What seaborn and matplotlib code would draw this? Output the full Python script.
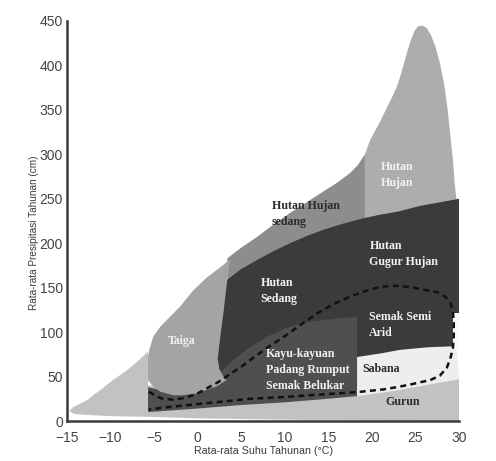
import numpy as np
import matplotlib
matplotlib.use("Agg")
import matplotlib.pyplot as plt
import seaborn as sns

# batas wilayah bioma (suhu °C, presipitasi cm)
amplop_T = [-14.7, -14.4, -13.6, -12.6, -12, -11, -10, -9, -8, -6.8, -5.7, -5.7, 0, 18.3, 30,
            30, 20, 10, 0, -5, -10, -13, -14.2, -14.7]
amplop_P = [11, 15, 19, 24, 29, 36, 44, 51, 58, 68, 78, 40, 40, 40, 50,
            0, 0.5, 1.5, 3, 4.5, 5.5, 7, 8, 11]

hujan_sedang_T = [3.4, 3.4, 5.0, 6.8, 8.7, 10.6, 12.5, 14.4, 16.0, 17.5, 18.4, 19.2, 19.2, 3.4]
hujan_sedang_P = [150, 183, 195, 207, 221, 234, 246, 258, 268, 279, 288, 300, 200, 150]

hujan_T = [19.2, 19.8, 20.4, 20.9, 21.4, 21.9, 22.4, 22.9, 23.3, 23.7, 24.1, 24.5, 24.9, 25.3, 25.8, 26.3,
           26.8, 27.3, 27.8, 28.3, 28.7, 29.0, 29.3, 29.5, 29.7, 30, 30, 19.2]
hujan_P = [300, 316, 327, 336, 346, 356, 366, 377, 389, 403, 417, 429, 439, 444, 445, 442,
           434, 421, 403, 379, 350, 322, 294, 268, 250, 240, 200, 200]

gelap_T = [1.5, 3.4, 5.0, 6.8, 8.7, 10.6, 12.5, 14.4, 16.7, 19.0, 20.9, 23.2, 25.5, 27.8, 30,
           30, 29.3, 29.3, 18.3, 1.5]
gelap_P = [150, 159, 171, 181, 191, 200, 208, 215, 222, 228, 232, 236, 242, 246, 250,
           121, 121, 60, 40, 30]

kayu_T = [-5.7, 0, 5, 10, 15, 18.3, 18.3, 16.5, 15, 13.5, 11.8, 10, 8, 6, 4.1, 3, 2.2, 1.2, 0.3, -2, -5.7]
kayu_P = [10, 14, 18, 21, 25, 28, 117, 116, 114, 112.5, 110, 104, 95, 83, 69, 59, 50, 41, 35, 30, 38]

sabana_T = [18.3, 18.3, 21, 23.2, 26.5, 29.3, 29.7, 29.9, 30, 26, 22, 18.3]
sabana_P = [28, 72, 76, 80, 83, 84, 80, 65, 47, 40, 33, 28]

celah_T = [29.3, 29.3, 30.1, 30.1]
celah_P = [83, 121, 121, 83]

taiga_T = [-5.7, -5.7, -5.55, -5.1, -4.3, -3.2, -2.0, -0.5, 1.0, 2.2, 3.0, 3.7, 3.4, 3.0, 2.6, 2.3, 2.5, 2.9, 3.3,
           2.2, 1.0, -0.1, -1.7, -2.8, -4.3, -5.1, -5.7]
taiga_P = [46, 72, 80, 95, 106, 117, 129, 147, 161, 170, 176, 182, 159, 125, 95, 70, 58, 51, 46,
           39, 35, 31, 29, 29, 33, 38.5, 46]

garis_T = [-5.6, -4.8, -4.0, -2.8, -1.5, -0.2, 1.1, 2.4, 3.6, 5.0, 6.5, 8.2, 9.8, 11.8, 13.7, 15.5, 17.5, 19.2,
           20.6, 22.0, 23.2, 24.8, 26.3, 27.5, 28.4, 29.0, 29.3, 29.4, 29.4, 29.3, 29.0, 28.6, 27.8, 26.7, 25.5,
           24.4, 22.8, 21.3, 19.8, 18.3, 16.0, 13.7, 11.5, 9.8, 8.0, 6.0, 4.0, 2.0, 0.0, -2.0, -4.0, -5.6]
garis_P = [33, 28, 25, 24, 26, 30, 37, 44, 52, 61, 72, 84, 94, 108, 121, 131, 140, 146,
           150, 152, 152, 150, 147, 145, 140, 133, 124, 110, 95, 82, 70, 60, 51, 46, 43.5,
           41, 38, 35.5, 34, 32.5, 31, 29.5, 28, 27, 26, 25, 23, 21, 19, 17, 15, 13]

# label bioma
label_bioma = ["Hutan Hujan\nsedang", "Hutan\nHujan", "Hutan\nGugur Hujan", "Hutan\nSedang", "Taiga",
               "Semak Semi\nArid", "Kayu-kayuan\nPadang Rumput\nSemak Belukar", "Sabana", "Gurun"]
label_T = [8.5, 21.0, 19.7, 7.2, -3.4, 19.7, 7.8, 18.9, 21.5]
label_P = [233, 277, 188, 146, 90, 108, 57, 58, 21]
label_warna = ["#2b2b2b", "#f2f2f2", "#f2f2f2", "#f2f2f2", "#f2f2f2", "#f2f2f2", "#f2f2f2", "#2b2b2b", "#2b2b2b"]

sns.set_theme(style="white")
plt.rcParams['font.family'] = ['Liberation Sans', 'DejaVu Sans']

fig = plt.figure(figsize=(4.96, 4.61), dpi=100)
ax = fig.add_axes([67 / 496, 40 / 461, 392 / 496, 400 / 461])

ax.fill(amplop_T, amplop_P, color="#c2c2c2", lw=0)
ax.fill(hujan_sedang_T, hujan_sedang_P, color="#8d8d8d", lw=0)
ax.fill(hujan_T, hujan_P, color="#adadad", lw=0)
ax.fill(gelap_T, gelap_P, color="#3b3b3b", lw=0)
ax.fill(kayu_T, kayu_P, color="#4f4f4f", lw=0)
ax.fill(sabana_T, sabana_P, color="#eeeeee", lw=0)
ax.fill(taiga_T, taiga_P, color="#a4a4a4", lw=0)
ax.fill(celah_T, celah_P, color="#fafafa", lw=0)

sns.lineplot(x=garis_T, y=garis_P, sort=False, estimator=None, color="#111111",
             lw=1.8, linestyle=(0, (2.4, 1.7)), ax=ax)

for teks, t, p, w in zip(label_bioma, label_T, label_P, label_warna):
    ax.text(t, p, teks, color=w, ha="left", va="center", fontsize=8.6, fontweight="bold",
            family=["Liberation Serif", "DejaVu Serif"], linespacing=1.45)

ax.set_xlim(-15, 30)
ax.set_ylim(0, 450)
ax.set_xticks(np.arange(-15, 31, 5))
ax.set_yticks(np.arange(0, 451, 50))
ax.tick_params(direction="in", length=4, width=1.5, color="#444444", labelcolor="#444444", labelsize=10)
ax.tick_params(axis="x", pad=7)
ax.tick_params(axis="y", pad=3)
for s in ["top", "right"]:
    ax.spines[s].set_visible(False)
for s in ["left", "bottom"]:
    ax.spines[s].set_color("#3a3a3a")
    ax.spines[s].set_linewidth(1.8)

ax.set_xlabel("Rata-rata Suhu Tahunan (°C)", fontsize=7.7, color="#3a3a3a")
ax.set_ylabel("Rata-rata Presipitasi Tahunan (cm)", fontsize=7.2, color="#3a3a3a")
ax.xaxis.set_label_coords(0.5, -0.063)
ax.yaxis.set_label_coords(-0.072, 0.47)

fig.savefig("out.png", dpi=100)
